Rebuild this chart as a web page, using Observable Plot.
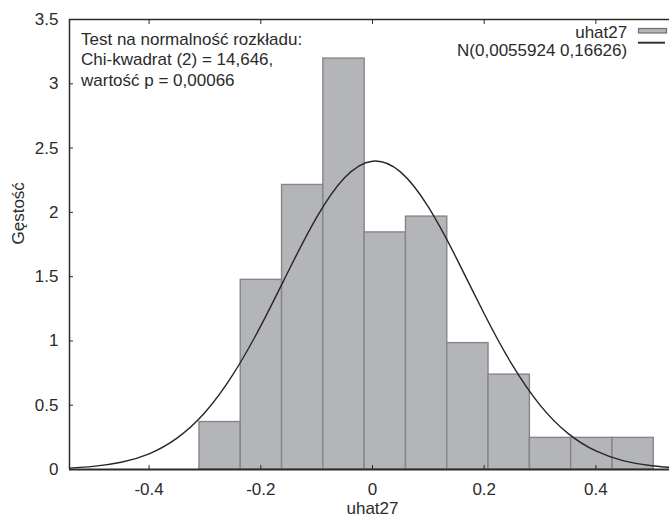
<!DOCTYPE html>
<html>
<head>
<meta charset="utf-8">
<script src="https://cdn.jsdelivr.net/npm/d3@7"></script>
<script src="https://cdn.jsdelivr.net/npm/@observablehq/plot@0.6"></script>
<style>
  html, body { margin: 0; padding: 0; background: #fff; }
  #wrap { position: relative; width: 669px; height: 518px; font-family: "Liberation Sans", Arial, sans-serif; }
  #legend { position: absolute; left: 0; top: 0; pointer-events: none; }
</style>
</head>
<body>
<div id="wrap"></div>
<script>
// Histogram bins (left edge, right edge) and density heights
const binLo = [-0.3098, -0.2359, -0.1619, -0.0880, -0.0140, 0.0599, 0.1339, 0.2078, 0.2818, 0.3557, 0.4297];
const binHi = [-0.2359, -0.1619, -0.0880, -0.0140, 0.0599, 0.1339, 0.2078, 0.2818, 0.3557, 0.4297, 0.5036];
const density = [0.369, 1.475, 2.213, 3.196, 1.844, 1.967, 0.983, 0.738, 0.246, 0.246, 0.246];

// Normal curve N(0.0055924, 0.16626)
const curveX = [-0.55, -0.50, -0.45, -0.40, -0.35, -0.30, -0.25, -0.20, -0.15, -0.10, -0.05, 0.00, 0.05, 0.10, 0.15, 0.20, 0.25, 0.30, 0.35, 0.40, 0.45, 0.50, 0.55];
const curveY = [0.009, 0.024, 0.056, 0.122, 0.244, 0.443, 0.737, 1.117, 1.548, 1.961, 2.269, 2.398, 2.315, 2.042, 1.646, 1.211, 0.815, 0.501, 0.281, 0.144, 0.067, 0.029, 0.011];

const xTicks = [-0.4, -0.2, 0, 0.2, 0.4];
const yTicks = [0, 0.5, 1, 1.5, 2, 2.5, 3, 3.5];
const xDomain = [-0.5425, 0.5318];
const yDomain = [0, 3.5];

const testText = "Test na normalność rozkładu:\nChi-kwadrat (2) = 14,646,\nwartość p = 0,00066";
const legendLabels = ["uhat27", "N(0,0055924 0,16626)"];
const xLabel = "uhat27";
const yLabel = "Gęstość";

const bins = binLo.map((lo, i) => ({lo, hi: binHi[i], d: density[i]}));
const curve = curveX.map((x, i) => ({x, y: curveY[i]}));

const ink = "#2b2b2b";
const fs = 17;

const chart = Plot.plot({
  width: 669,
  height: 518,
  marginLeft: 69,
  marginRight: 0,
  marginTop: 19,
  marginBottom: 49,
  style: {fontFamily: '"Liberation Sans", Arial, sans-serif', fontSize: fs + "px", color: ink, background: "#fff"},
  x: {domain: xDomain},
  y: {domain: yDomain},
  marks: [
    Plot.rect(bins, {x1: "lo", x2: "hi", y1: 0, y2: "d", fill: "#b4b5b9", stroke: "#858689", strokeWidth: 1.4}),
    Plot.line(curve, {x: "x", y: "y", curve: "natural", stroke: "#262626", strokeWidth: 1.4, clip: true}),
    Plot.ruleX([xDomain[0]], {stroke: ink, strokeWidth: 1.5}),
    Plot.ruleY([yDomain[1]], {stroke: ink, strokeWidth: 1.5}),
    Plot.ruleY([0], {stroke: ink, strokeWidth: 2.2}),
    // y axis labels and inward ticks
    Plot.axisY({ticks: yTicks, tickFormat: d => String(d), tickSize: 0, tickPadding: 11, fontSize: fs, fill: ink}),
    Plot.axisY({ticks: yTicks, text: null, tickSize: 4, dx: 4, stroke: ink}),
    // x axis labels and inward ticks (bottom and top)
    Plot.axisX({ticks: xTicks, tickFormat: d => String(d), tickSize: 0, tickPadding: 13, fontSize: fs, fill: ink, label: null}),
    Plot.axisX({ticks: xTicks, text: null, tickSize: 4, dy: -4, stroke: ink, label: null}),
    Plot.axisX({anchor: "top", ticks: xTicks, text: null, tickSize: 4, dy: 4, stroke: ink, label: null}),
    // axis titles
    Plot.text([xLabel], {frameAnchor: "bottom", dx: 3, dy: 44.5, fontSize: fs, fill: ink}),
    Plot.text([yLabel], {frameAnchor: "left", dx: -51, rotate: -90, fontSize: fs, fill: ink}),
    // test annotation
    Plot.text([testText], {frameAnchor: "top-left", textAnchor: "start", lineAnchor: "top", dx: 11.5, dy: 11, lineHeight: 1.2, fontSize: fs, fill: ink}),
    // legend labels
    Plot.text([legendLabels.join("\n")], {frameAnchor: "top-right", textAnchor: "end", lineAnchor: "top", dx: -42.3, dy: 6, lineHeight: 1.05, fontSize: fs, fill: ink})
  ]
});

const wrap = document.getElementById("wrap");
wrap.appendChild(chart);

// legend swatches
const ns = "http://www.w3.org/2000/svg";
const leg = document.createElementNS(ns, "svg");
leg.setAttribute("id", "legend");
leg.setAttribute("width", 669);
leg.setAttribute("height", 60);
const sw = document.createElementNS(ns, "rect");
sw.setAttribute("x", 638.5); sw.setAttribute("y", 28.5);
sw.setAttribute("width", 28); sw.setAttribute("height", 4.5);
sw.setAttribute("fill", "#b4b5b9"); sw.setAttribute("stroke", "#6e6f72"); sw.setAttribute("stroke-width", 1.2);
leg.appendChild(sw);
const ln = document.createElementNS(ns, "line");
ln.setAttribute("x1", 638); ln.setAttribute("x2", 665);
ln.setAttribute("y1", 42.7); ln.setAttribute("y2", 42.7);
ln.setAttribute("stroke", "#333"); ln.setAttribute("stroke-width", 2);
leg.appendChild(ln);
wrap.appendChild(leg);
</script>
</body>
</html>
